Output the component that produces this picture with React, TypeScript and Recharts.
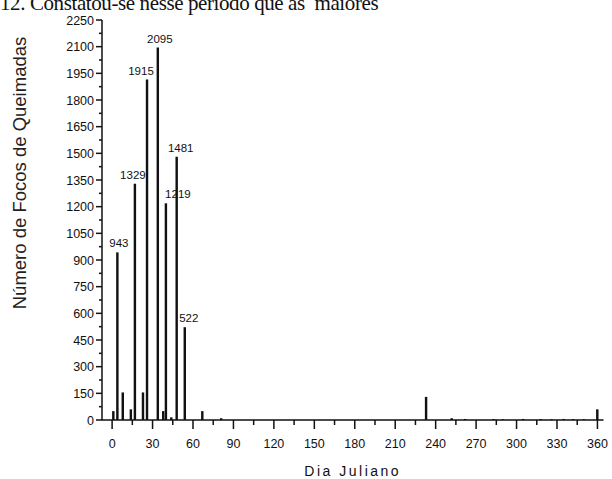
import { Bar, BarChart, LabelList, XAxis, YAxis } from "recharts";

// dia juliano e número de focos
const days = [1, 4, 8, 14, 17, 23, 26, 34, 38, 40, 44, 48, 54, 67, 81, 233, 252, 262, 283, 290, 305, 318, 326, 335, 342, 350, 360];
const focos = [50, 943, 155, 60, 1329, 155, 1915, 2095, 50, 1219, 15, 1481, 522, 50, 10, 130, 10, 6, 5, 4, 6, 5, 4, 6, 5, 4, 60];

const xTicks = [0, 15, 30, 45, 60, 75, 90, 105, 120, 135, 150, 165, 180, 195, 210, 225, 240, 255, 270, 285, 300, 315, 330, 345, 360];
const yTicks = [0, 75, 150, 225, 300, 375, 450, 525, 600, 675, 750, 825, 900, 975, 1050, 1125, 1200, 1275, 1350, 1425, 1500, 1575, 1650, 1725, 1800, 1875, 1950, 2025, 2100, 2175, 2250];

const data = days.map((d, i) => ({ dia: d, focos: focos[i] }));

const INK = "#111";
const SANS = "'Liberation Sans', Arial, sans-serif";

// deslocamento horizontal dos rótulos em relação à barra
const labelDx: Record<number, number> = { 4: 1.5, 17: -2, 26: -6, 34: 2, 40: 12, 48: 4, 54: 4 };

function XTick(props: any) {
  const { x, y, payload } = props;
  const major = payload.value % 30 === 0;
  return (
    <g>
      <line x1={x} x2={x} y1={y} y2={y + (major ? 9 : 5)} stroke={INK} strokeWidth={1.5} />
      {major && (
        <text x={x} y={y + 28} textAnchor="middle" fontSize={12.5} fontFamily={SANS} fill={INK}>
          {payload.value}
        </text>
      )}
    </g>
  );
}

function YTick(props: any) {
  const { x, y, payload } = props;
  const major = payload.value % 150 === 0;
  return (
    <g>
      <line x1={x - (major ? 6 : 3)} x2={x} y1={y} y2={y} stroke={INK} strokeWidth={1.5} />
      {major && (
        <text x={x - 8} y={y + 4.5} textAnchor="end" fontSize={12.5} fontFamily={SANS} fill={INK}>
          {payload.value}
        </text>
      )}
    </g>
  );
}

function ValueLabel(props: any) {
  const { x, y, width, value, index } = props;
  if (value < 500) return null;
  const dx = labelDx[days[index]] ?? 0;
  return (
    <text x={x + width / 2 + dx} y={y - 5} textAnchor="middle" fontSize={11.5} fontFamily={SANS} fill={INK}>
      {value}
    </text>
  );
}

export default function App() {
  return (
    <div style={{ position: "absolute", left: 0, top: 0, width: 612, height: 479, background: "#fff", overflow: "hidden" }}>
      <div
        style={{
          position: "absolute",
          left: 0,
          top: -7,
          fontFamily: "'Liberation Serif', 'Times New Roman', serif",
          fontSize: 21,
          lineHeight: "20px",
          letterSpacing: -0.4,
          whiteSpace: "nowrap",
          color: INK,
        }}
      >
        12. Constatou-se nesse período que as &nbsp;maiores
      </div>
      <BarChart width={612} height={479} data={data} margin={{ top: 20, right: 8.5, bottom: 0, left: 0 }}>
        <XAxis
          dataKey="dia"
          type="number"
          domain={[-7.5, 364.5]}
          ticks={xTicks}
          interval={0}
          height={59}
          tickSize={0}
          tickMargin={0}
          tick={<XTick />}
          axisLine={{ stroke: INK, strokeWidth: 1.5 }}
          label={{
            value: "Dia Juliano",
            position: "insideBottom",
            offset: 3,
            fontSize: 14,
            fontFamily: SANS,
            fill: INK,
            letterSpacing: 2.5,
          }}
        />
        <YAxis
          type="number"
          domain={[0, 2250]}
          ticks={yTicks}
          interval={0}
          width={102}
          tickSize={0}
          tickMargin={0}
          tick={<YTick />}
          axisLine={{ stroke: INK, strokeWidth: 1.5 }}
          label={{
            value: "Número de Focos de Queimadas",
            angle: -90,
            position: "insideLeft",
            content: (p: any) => (
              <text
                x={p.viewBox.x + 26}
                y={p.viewBox.y + 153}
                transform={`rotate(-90, ${p.viewBox.x + 26}, ${p.viewBox.y + 153})`}
                textAnchor="middle"
                fontSize={18.5}
                fontFamily={SANS}
                fill="#222"
              >
                Número de Focos de Queimadas
              </text>
            ),
          }}
        />
        <Bar dataKey="focos" fill={INK} barSize={3} isAnimationActive={false}>
          <LabelList dataKey="focos" content={<ValueLabel />} />
        </Bar>
      </BarChart>
    </div>
  );
}
